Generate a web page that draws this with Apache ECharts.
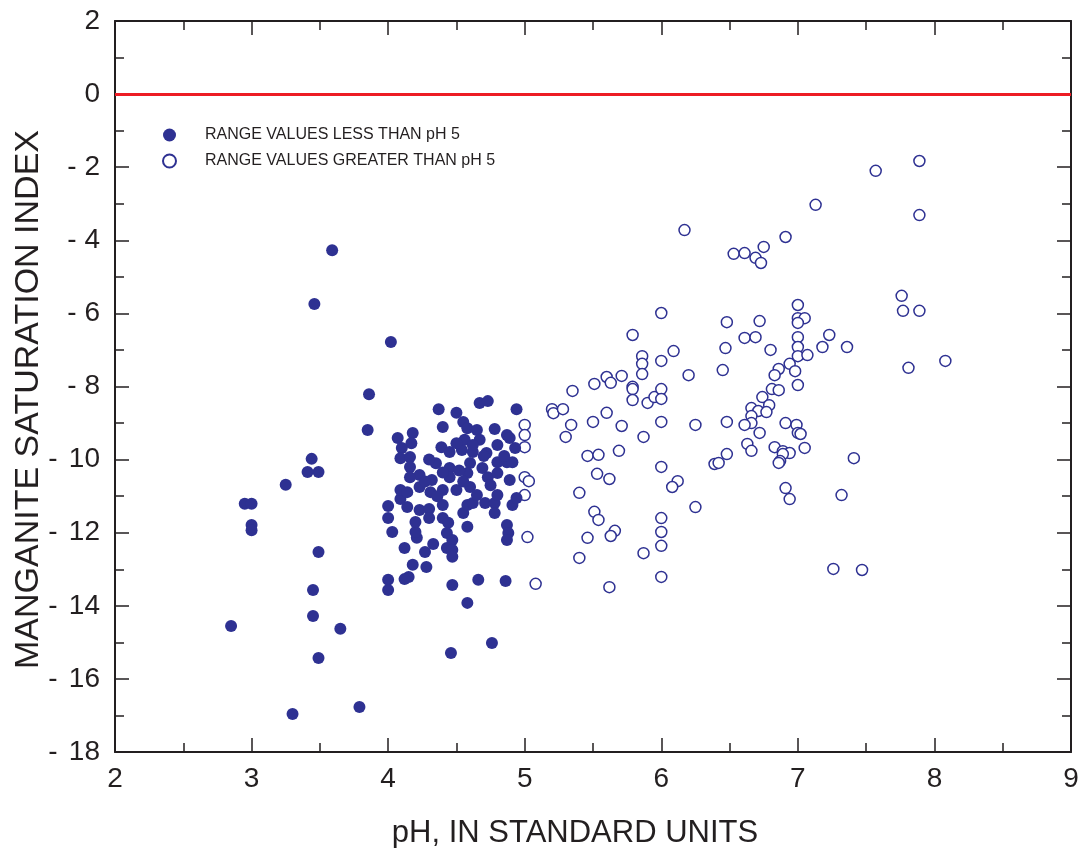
<!DOCTYPE html>
<html><head><meta charset="utf-8">
<script src="https://cdn.jsdelivr.net/npm/echarts@6/dist/echarts.min.js"></script>
<style>html,body{margin:0;padding:0;background:#fff}#c{width:1079px;height:848px}</style>
</head><body><div id="c"></div>
<script>
const xTicks = [2,3,4,5,6,7,8,9];
const yTicks = [2,0,-2,-4,-6,-8,-10,-12,-14,-16,-18];
const seriesNames = ['RANGE VALUES LESS THAN pH 5','RANGE VALUES GREATER THAN pH 5'];
const xTitle = 'pH, IN STANDARD UNITS';
const yTitle = 'MANGANITE SATURATION INDEX';
const equilibrium = 0;

const lessThan5 = [
[3.59,-4.27],[3.46,-5.74],[4.02,-6.78],[3.86,-8.21],[3.85,-9.19],[3.44,-9.98],[3.49,-10.34],[3.41,-10.34],
[3.25,-10.69],[2.95,-11.21],[3.00,-11.21],[3.00,-11.79],[3.00,-11.93],[3.49,-12.53],[3.45,-13.57],[3.45,-14.28],
[3.65,-14.63],[2.85,-14.55],[3.49,-15.43],[3.30,-16.96],[3.79,-16.77],
[4.00,-11.27],[4.00,-11.60],[4.03,-11.98],[4.09,-11.08],[4.14,-11.30],[4.12,-12.42],[4.18,-12.88],[4.15,-13.21],
[4.12,-13.27],[4.00,-13.29],[4.00,-13.57],[4.27,-12.53],[4.33,-12.31],[4.28,-12.94],[4.21,-12.14],[4.20,-11.98],
[4.20,-11.71],[4.23,-11.38],[4.30,-11.35],[4.30,-11.60],[4.40,-11.24],[4.40,-11.60],[4.44,-11.73],[4.43,-12.01],
[4.47,-12.20],[4.43,-12.42],[4.47,-12.47],[4.47,-12.66],[4.55,-11.46],[4.58,-11.24],[4.62,-11.19],[4.58,-11.84],
[4.71,-11.19],[4.78,-11.19],[4.78,-11.46],[4.87,-11.79],[4.88,-12.01],[4.87,-12.20],[4.91,-11.24],[4.47,-13.43],
[4.66,-13.29],[4.86,-13.32],[4.58,-13.92],[4.76,-15.02],[4.46,-15.29],
[4.37,-8.62],[4.50,-8.72],[4.67,-8.45],[4.73,-8.40],[4.94,-8.62],[4.40,-9.11],[4.55,-8.97],[4.58,-9.14],
[4.65,-9.19],[4.78,-9.16],[4.87,-9.33],[4.18,-9.27],[4.07,-9.41],[4.17,-9.55],[4.10,-9.68],[4.09,-9.96],
[4.16,-9.93],[4.39,-9.66],[4.45,-9.79],[4.56,-9.46],[4.67,-9.46],[4.80,-9.60],[4.89,-9.41],[4.93,-9.68],
[4.62,-9.79],[4.72,-9.82],[4.54,-9.74],[4.16,-10.20],[4.23,-10.42],[4.32,-10.56],[4.16,-10.48],[4.45,-10.23],
[4.45,-10.48],[4.60,-10.09],[4.58,-10.37],[4.69,-10.23],[4.80,-10.07],[4.87,-10.07],[4.91,-10.07],[4.73,-10.48],
[4.80,-10.37],[4.89,-10.56],[4.09,-10.83],[4.14,-10.89],[4.23,-10.75],[4.31,-10.89],[4.40,-10.83],[4.50,-10.83],
[4.60,-10.75],[4.65,-10.97],[4.80,-10.97],[4.94,-11.05],
[4.35,-10.10],[4.52,-10.30],[4.55,-10.60],[4.70,-9.90],[4.85,-9.90],[4.62,-9.60],[4.30,-10.00],[4.40,-10.35],
[4.27,-10.60],[4.50,-9.55],[4.75,-10.70],[4.36,-11.00]
];

const greaterThan5 = [
[6.00,-5.99],[5.79,-6.59],[5.86,-7.17],[5.86,-7.38],[5.86,-7.66],[6.00,-7.30],[6.09,-7.03],[6.20,-7.69],
[5.35,-8.12],[5.51,-7.93],[5.60,-7.74],[5.63,-7.90],[5.71,-7.71],[5.79,-8.01],[5.79,-8.07],[5.79,-8.37],
[5.90,-8.45],[5.95,-8.29],[6.00,-8.07],[6.00,-8.34],[5.20,-8.62],[5.21,-8.73],[5.28,-8.62],[5.34,-9.05],
[5.50,-8.97],[5.60,-8.72],[5.71,-9.08],[5.87,-9.38],[6.00,-8.97],[6.25,-9.05],[5.00,-9.05],[5.00,-9.33],
[5.00,-9.66],[5.30,-9.38],[5.46,-9.90],[5.54,-9.87],[5.69,-9.76],[6.00,-10.20],[5.53,-10.39],[6.39,-10.12],
[5.62,-10.53],[6.12,-10.59],[5.00,-10.48],[5.03,-10.59],[5.00,-10.97],[5.40,-10.91],[5.51,-11.43],[5.54,-11.65],
[5.66,-11.95],[5.63,-12.09],[5.46,-12.14],[5.40,-12.69],[5.02,-12.12],[5.08,-13.40],[5.62,-13.49],[6.08,-10.75],
[6.25,-11.30],[6.00,-11.60],[6.00,-11.98],[6.00,-12.36],[5.87,-12.56],[6.00,-13.21],
[6.91,-3.91],[6.75,-4.18],[6.53,-4.37],[6.61,-4.35],[6.69,-4.48],[6.73,-4.62],[7.00,-5.77],[7.00,-6.13],
[7.05,-6.13],[7.00,-6.26],[6.48,-6.24],[6.72,-6.21],[6.61,-6.67],[6.69,-6.65],[7.00,-6.65],[7.23,-6.59],
[7.00,-6.92],[7.18,-6.92],[7.36,-6.92],[6.47,-6.95],[6.80,-7.00],[7.00,-7.17],[7.07,-7.14],[6.94,-7.38],
[6.86,-7.52],[6.83,-7.69],[6.98,-7.58],[6.45,-7.55],[7.00,-7.96],[6.81,-8.07],[6.86,-8.10],[6.74,-8.29],
[6.66,-8.59],[6.71,-8.67],[6.79,-8.51],[6.77,-8.70],[6.66,-8.81],[6.66,-9.00],[6.61,-9.05],[6.48,-8.97],
[6.72,-9.27],[6.91,-9.00],[6.99,-9.05],[7.00,-9.27],[7.02,-9.30],[6.63,-9.57],[6.66,-9.76],[6.48,-9.85],
[6.42,-10.09],[6.83,-9.66],[6.89,-9.77],[6.94,-9.82],[6.89,-9.85],[6.87,-10.04],[6.86,-10.09],[7.05,-9.68],
[7.41,-9.96],[6.91,-10.78],[6.94,-11.08],[7.32,-10.97],[7.26,-12.99],[7.47,-13.02],
[7.89,-1.83],[7.57,-2.10],[7.89,-3.31],[7.76,-5.52],[7.77,-5.93],[7.89,-5.93],[8.08,-7.30],[7.81,-7.49],
[6.17,-3.72],[7.13,-3.03]
];

const BLUE = '#2e3192';
const INK = '#231f20';
const chart = echarts.init(document.getElementById('c'), null, {renderer:'canvas'});

const axisCommon = {
  axisLine:{show:true, onZero:false, lineStyle:{color:INK, width:2}},
  axisTick:{show:true, inside:true, length:14, lineStyle:{color:INK, width:1.5}},
  minorTick:{show:true, splitNumber:2, length:9, lineStyle:{color:INK, width:1.5}},
  splitLine:{show:false}
};

function yLabel(v){
  if(!yTicks.includes(v)) return '';
  if(v >= 0) return String(v);
  const digits = String(-v);
  return '-' + (digits.length > 1 ? '\u2009\u2009' : '\u2009\u200A') + digits;
}

chart.setOption({
  animation:false,
  backgroundColor:'#fff',
  grid:{left:115, right:8, top:21, bottom:96, containLabel:false, outerBoundsMode:'none'},
  legend:{
    orient:'vertical', left:157, top:122, itemGap:10, itemWidth:13, itemHeight:13,
    data:[{name:seriesNames[0], icon:'circle'},{name:seriesNames[1], icon:'circle'}],
    textStyle:{fontFamily:'Liberation Sans, Arial', fontSize:16, color:INK, padding:[0,0,0,24]}
  },
  xAxis:[
    Object.assign({type:'value', min:2, max:9, interval:1, position:'bottom',
      name:xTitle, nameLocation:'middle', nameGap:66, nameMoveOverlap:false,
      nameTextStyle:{fontFamily:'Liberation Sans Narrow, Liberation Sans', fontSize:31, color:INK, padding:[0,36,0,0]},
      axisLabel:{margin:13, fontFamily:'Liberation Sans Narrow, Liberation Sans', fontSize:28, color:INK,
        formatter:v=>xTicks.includes(v)?String(v):''}}, axisCommon),
    Object.assign({type:'value', min:2, max:9, interval:1, position:'top', axisLabel:{show:false}}, axisCommon)
  ],
  yAxis:[
    Object.assign({type:'value', min:-18, max:2, interval:2, position:'left',
      name:yTitle, nameLocation:'middle', nameGap:69, nameMoveOverlap:false,
      nameTextStyle:{fontFamily:'Liberation Sans Narrow, Liberation Sans', fontSize:34, color:INK, padding:[0,26,0,0]},
      axisLabel:{margin:15, fontFamily:'Liberation Sans, Arial', fontSize:28, color:INK,
        formatter:yLabel}}, axisCommon),
    Object.assign({type:'value', min:-18, max:2, interval:2, position:'right', axisLabel:{show:false}}, axisCommon)
  ],
  series:[
    {name:seriesNames[1], type:'scatter', data:greaterThan5, symbol:'circle', symbolSize:11,
      itemStyle:{color:'#fff', borderColor:BLUE, borderWidth:1.5, opacity:1}, z:3},
    {name:seriesNames[0], type:'scatter', data:lessThan5, symbol:'circle', symbolSize:12,
      itemStyle:{color:BLUE, borderColor:BLUE, borderWidth:0, opacity:1}, z:4},
    {name:'equilibrium', type:'line', data:[], silent:true,
      markLine:{symbol:'none', silent:true, label:{show:false},
        lineStyle:{color:'#ed1c24', width:3, type:'solid'}, data:[{yAxis:equilibrium}]}, z:5}
  ]
});
</script></body></html>
